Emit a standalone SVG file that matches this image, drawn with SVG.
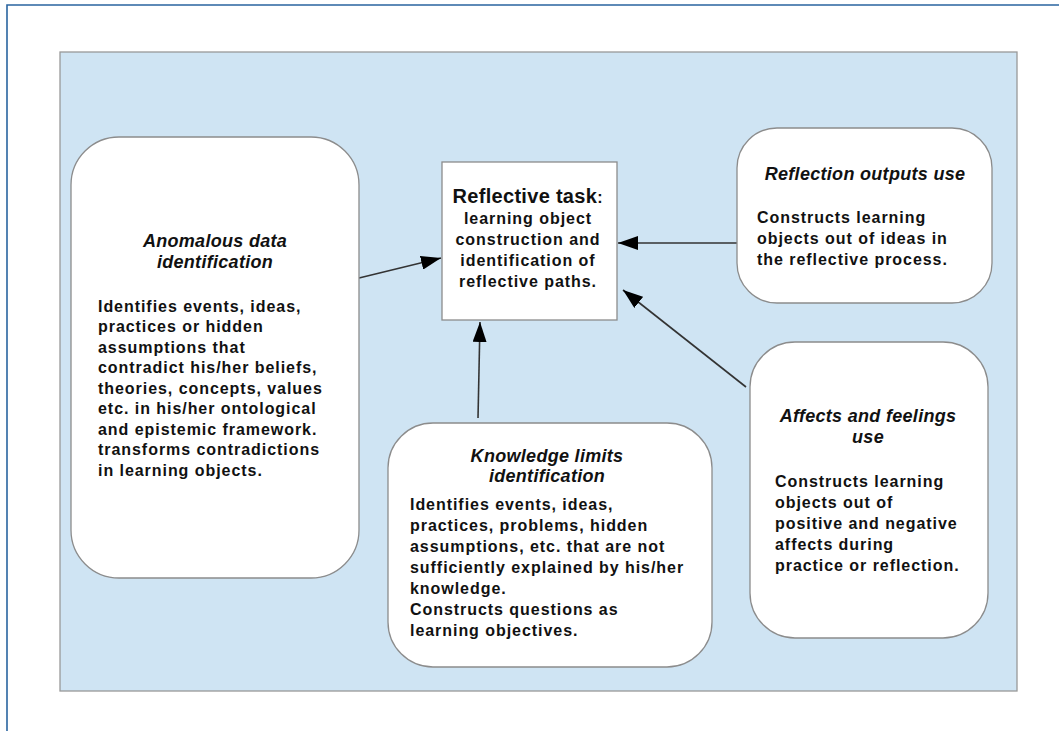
<svg xmlns="http://www.w3.org/2000/svg" width="1059" height="731" viewBox="0 0 1059 731">
  <defs>
    <style>
      .node { fill: #ffffff; stroke: #8c8c8c; stroke-width: 1.3; }
      .title { font-family: "Liberation Sans", Arial, sans-serif; font-weight: bold; font-style: italic; font-size: 18px; letter-spacing: 0.3px; fill: #111; text-anchor: middle; }
      .body { font-family: "Liberation Sans", Arial, sans-serif; font-weight: bold; font-size: 16px; letter-spacing: 0.95px; fill: #111; }
      .center { text-anchor: middle; }
      .conn { stroke: #333; stroke-width: 1.6; fill: none; marker-end: url(#arrow); }
    </style>
    <marker id="arrow" viewBox="0 0 20 14" refX="20" refY="7" markerWidth="20" markerHeight="14" markerUnits="userSpaceOnUse" orient="auto">
      <path d="M0,0 L20,7 L0,14 Z" fill="#000"/>
    </marker>
  </defs>
  <rect x="0" y="0" width="1059" height="731" fill="#ffffff"/>
  <path d="M7,731 L7,5 L1059,5" fill="none" stroke="#2a64a0" stroke-width="1.6"/>
  <rect id="panel" x="60" y="52" width="957" height="639" fill="#cfe4f3" stroke="#999" stroke-width="1.3"/>

  <g id="connectors">
    <line class="conn" x1="359" y1="278" x2="441" y2="258"/>
    <line class="conn" x1="737" y1="243" x2="618" y2="243"/>
    <line class="conn" x1="746" y1="387" x2="623" y2="290"/>
    <line class="conn" x1="478" y1="418" x2="480" y2="322"/>
  </g>

  <g id="anomalous">
    <rect class="node" x="71" y="137" width="288" height="441" rx="48" ry="48"/>
    <text class="title" x="215" y="247">Anomalous data</text>
    <text class="title" x="215" y="268">identification</text>
    <text class="body" x="98" y="312">Identifies events, ideas,</text>
    <text class="body" x="98" y="332">practices or hidden</text>
    <text class="body" x="98" y="353">assumptions that</text>
    <text class="body" x="98" y="373">contradict his/her beliefs,</text>
    <text class="body" x="98" y="394">theories, concepts, values</text>
    <text class="body" x="98" y="414">etc. in his/her ontological</text>
    <text class="body" x="98" y="435">and epistemic framework.</text>
    <text class="body" x="98" y="455">transforms contradictions</text>
    <text class="body" x="98" y="476">in learning objects.</text>
  </g>

  <g id="reflective-task">
    <rect x="442" y="162" width="175" height="158" fill="#fff" stroke="#8c8c8c" stroke-width="1.3"/>
    <text class="body center" x="528" y="203"><tspan font-size="20px" letter-spacing="0.3px">Reflective task</tspan>:</text>
    <text class="body center" x="528" y="224">learning object</text>
    <text class="body center" x="528" y="245">construction and</text>
    <text class="body center" x="528" y="266">identification of</text>
    <text class="body center" x="528" y="287">reflective paths.</text>
  </g>

  <g id="reflection-outputs">
    <rect class="node" x="737" y="128" width="255" height="175" rx="40" ry="40"/>
    <text class="title" x="865" y="180">Reflection outputs use</text>
    <text class="body" x="757" y="223">Constructs learning</text>
    <text class="body" x="757" y="244">objects out of ideas in</text>
    <text class="body" x="757" y="265">the reflective process.</text>
  </g>

  <g id="affects">
    <rect class="node" x="750" y="342" width="238" height="296" rx="45" ry="45"/>
    <text class="title" x="868" y="422">Affects and feelings</text>
    <text class="title" x="868" y="443">use</text>
    <text class="body" x="775" y="487">Constructs learning</text>
    <text class="body" x="775" y="508">objects out of</text>
    <text class="body" x="775" y="529">positive and negative</text>
    <text class="body" x="775" y="550">affects during</text>
    <text class="body" x="775" y="571">practice or reflection.</text>
  </g>

  <g id="knowledge-limits">
    <rect class="node" x="388" y="423" width="324" height="244" rx="45" ry="45"/>
    <text class="title" x="547" y="462">Knowledge limits</text>
    <text class="title" x="547" y="482">identification</text>
    <text class="body" x="410" y="510">Identifies events, ideas,</text>
    <text class="body" x="410" y="531">practices, problems, hidden</text>
    <text class="body" x="410" y="552">assumptions, etc. that are not</text>
    <text class="body" x="410" y="573">sufficiently explained by his/her</text>
    <text class="body" x="410" y="594">knowledge.</text>
    <text class="body" x="410" y="615">Constructs questions as</text>
    <text class="body" x="410" y="636">learning objectives.</text>
  </g>
</svg>
